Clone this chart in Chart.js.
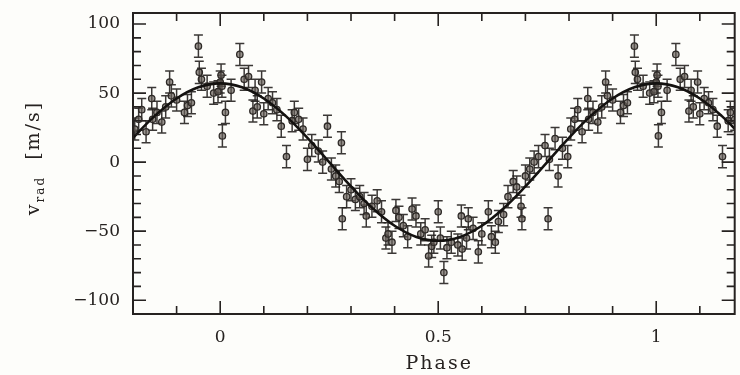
<!DOCTYPE html>
<html>
<head>
<meta charset="utf-8">
<script src="https://cdn.jsdelivr.net/npm/chart.js@4.4.1/dist/chart.umd.min.js"></script>
<style>
  html, body { margin: 0; padding: 0; background: #fdfdfa; }
  #wrap { width: 740px; height: 375px; }
</style>
</head>
<body>
<div id="wrap"><canvas id="rv" width="740" height="375"></canvas></div>
<script>
// ==================== DATA ====================

// phase-folded radial velocities, phase 0..1 (m/s)
const obsPhase = [
  0.000, 0.002, 0.004, 0.005, 0.012, 0.025, 0.045, 0.055, 0.065, 0.075,
  0.080, 0.085, 0.095, 0.100, 0.110, 0.120, 0.130, 0.140, 0.152, 0.165,
  0.170, 0.180, 0.190, 0.200, 0.210, 0.225, 0.235, 0.246, 0.255, 0.265,
  0.273, 0.278, 0.280, 0.290, 0.300, 0.310, 0.320, 0.330, 0.335, 0.348,
  0.360, 0.370, 0.380, 0.385, 0.394, 0.403, 0.410, 0.420, 0.430, 0.440,
  0.449, 0.460, 0.470, 0.478, 0.485, 0.490, 0.500, 0.505, 0.513, 0.520,
  0.530, 0.545, 0.553, 0.555, 0.565, 0.569, 0.580, 0.592, 0.600, 0.615,
  0.622, 0.631, 0.638, 0.650, 0.660, 0.672, 0.680, 0.690, 0.692, 0.700,
  0.710, 0.720, 0.730, 0.745, 0.752, 0.755, 0.768, 0.775, 0.785, 0.797,
  0.804, 0.813, 0.820, 0.830, 0.843, 0.845, 0.855, 0.866, 0.875, 0.884,
  0.888, 0.900, 0.918, 0.925, 0.934, 0.950, 0.952, 0.957, 0.970, 0.985,
  0.995
];
const obsVel = [
   58,  63,  55,  19,  36,  52,  78,  60,  62,  37,
   52,  40,  58,  35,  46,  43,  38,  26,   4,  30,
   36,  31,  24,   2,  12,   8,   0,  26,  -5, -10,
  -14,  14, -41, -25, -20, -27, -25, -30, -39, -32,
  -28, -36, -55, -52, -58, -35, -40, -46, -54, -34,
  -39, -52, -49, -68, -61, -58, -36, -55, -80, -62,
  -58, -60, -39, -63, -55, -41, -48, -65, -52, -36,
  -54, -58, -43, -38, -25, -14, -18, -32, -41, -10,
   -5,   0,   4,  12, -41,   2,  17, -10,  10,   4,
   24,  31,  38,  22,  46,  31,  36,  29,  40,  58,
   48,  45,  36,  41,  43,  84,  65,  60,  55,  50,
   51
];
const velErr = 8;

// fitted orbit, sampled every 0.05 in phase
const fitPhase = [
  -0.20, -0.15, -0.10, -0.05, 0.00, 0.05, 0.10, 0.15, 0.20, 0.25,
   0.30,  0.35,  0.40,  0.45, 0.50, 0.55, 0.60, 0.65, 0.70, 0.75,
   0.80,  0.85,  0.90,  0.95, 1.00, 1.05, 1.10, 1.15, 1.20
];
const fitVel = [
   17.6,  33.5,  46.1,  54.2,  57.0,  54.2,  46.1,  33.5,  17.6,   0.0,
  -17.6, -33.5, -46.1, -54.2, -57.0, -54.2, -46.1, -33.5, -17.6,   0.0,
   17.6,  33.5,  46.1,  54.2,  57.0,  54.2,  46.1,  33.5,  17.6
];

const xTicks = [0, 0.5, 1];
const yTicks = [-100, -50, 0, 50, 100];
const xRange = [-0.2, 1.18];
const yRange = [-110, 108];

// ==================== CHART ====================

const INK = '#262220';
const FONT = '"DejaVu Serif", "Liberation Serif", serif';

// repeat the folded points outside 0..1 like the original plot does
function foldedPoints() {
  const pts = [];
  obsPhase.forEach((p, i) => {
    [p - 1, p, p + 1].forEach(q => {
      if (q >= xRange[0] && q <= xRange[1]) pts.push({ x: q, y: obsVel[i] });
    });
  });
  return pts;
}

// error bars with caps
const errorBars = {
  id: 'errorBars',
  beforeDatasetsDraw(chart) {
    const { ctx, chartArea, scales } = chart;
    const pts = chart.data.datasets[1].data;
    ctx.save();
    ctx.beginPath();
    ctx.rect(chartArea.left, chartArea.top, chartArea.width, chartArea.height);
    ctx.clip();
    ctx.strokeStyle = 'rgba(38,34,32,0.9)';
    ctx.lineWidth = 1.5;
    pts.forEach(d => {
      const x = scales.x.getPixelForValue(d.x);
      const yTop = scales.y.getPixelForValue(d.y + velErr);
      const yBot = scales.y.getPixelForValue(d.y - velErr);
      ctx.beginPath();
      ctx.moveTo(x, yTop); ctx.lineTo(x, yBot);
      ctx.moveTo(x - 4.5, yTop); ctx.lineTo(x + 4.5, yTop);
      ctx.moveTo(x - 4.5, yBot); ctx.lineTo(x + 4.5, yBot);
      ctx.stroke();
    });
    ctx.restore();
  }
};

// box frame with inward ticks on all four sides, plus axis titles
const frame = {
  id: 'frame',
  afterDraw(chart) {
    const { ctx, chartArea: a, scales } = chart;
    ctx.save();
    ctx.strokeStyle = INK;
    ctx.lineWidth = 2;
    ctx.strokeRect(a.left, a.top, a.right - a.left, a.bottom - a.top);

    ctx.lineWidth = 1.6;
    ctx.beginPath();
    for (let k = -2; k <= 11; k++) {
      const v = k / 10;
      const x = scales.x.getPixelForValue(v);
      const len = k % 5 === 0 ? 13 : 8;
      ctx.moveTo(x, a.bottom); ctx.lineTo(x, a.bottom - len);
      ctx.moveTo(x, a.top); ctx.lineTo(x, a.top + len);
    }
    for (let v = -100; v <= 100; v += 10) {
      const y = scales.y.getPixelForValue(v);
      const len = v % 50 === 0 ? 13 : 8;
      ctx.moveTo(a.left, y); ctx.lineTo(a.left + len, y);
      ctx.moveTo(a.right, y); ctx.lineTo(a.right - len, y);
    }
    ctx.stroke();

    // x title
    ctx.fillStyle = INK;
    ctx.font = '19px ' + FONT;
    ctx.letterSpacing = '2px';
    ctx.textAlign = 'center';
    ctx.textBaseline = 'middle';
    ctx.fillText('Phase', scales.x.getPixelForValue(0.5) + 1, 364);

    // y title: v_rad [m/s]
    ctx.translate(33, 158);
    ctx.rotate(-Math.PI / 2);
    ctx.textAlign = 'left';
    ctx.textBaseline = 'alphabetic';
    ctx.letterSpacing = '2px';
    const big = '19px ' + FONT, small = '12px ' + FONT;
    ctx.font = big;  const w1 = ctx.measureText('v').width;
    ctx.font = small; const w2 = ctx.measureText('rad').width;
    ctx.font = big;  const w3 = ctx.measureText('  [m/s]').width;
    const x0 = -(w1 + w2 + w3) / 2;
    ctx.font = big;   ctx.fillText('v', x0, 6);
    ctx.font = small; ctx.fillText('rad', x0 + w1, 11);
    ctx.font = big;   ctx.fillText('  [m/s]', x0 + w1 + w2, 6);
    ctx.restore();
  }
};

function initRvChart() {
  const ctx = document.getElementById('rv').getContext('2d');
  const tickFont = { family: FONT, size: 17 };

  new Chart(ctx, {
    type: 'scatter',
    data: {
      datasets: [{
        label: 'Fit',
        data: fitPhase.map((p, i) => ({ x: p, y: fitVel[i] })),
        showLine: true,
        borderColor: '#141210',
        borderWidth: 2.6,
        pointRadius: 0,
        tension: 0.4,
        order: 0
      }, {
        label: 'Observed',
        data: foldedPoints(),
        pointRadius: 3.2,
        pointBorderWidth: 1.3,
        borderColor: '#2e2a27',
        backgroundColor: 'rgba(100,92,86,0.65)',
        order: 1
      }]
    },
    options: {
      responsive: false,
      animation: false,
      devicePixelRatio: 1,
      layout: { padding: { top: 13, right: 1, left: 0, bottom: 0 } },
      plugins: { legend: { display: false }, tooltip: { enabled: false } },
      scales: {
        x: {
          type: 'linear',
          min: xRange[0],
          max: xRange[1],
          afterBuildTicks: s => { s.ticks = xTicks.map(v => ({ value: v })); },
          afterFit: s => { s.height = 61; s.paddingLeft = 0; s.paddingRight = 0; },
          grid: { display: false, drawTicks: false },
          border: { display: false },
          ticks: { font: tickFont, color: INK, padding: 13, maxRotation: 0, callback: v => String(v) }
        },
        y: {
          min: yRange[0],
          max: yRange[1],
          afterBuildTicks: s => { s.ticks = yTicks.map(v => ({ value: v })); },
          afterFit: s => { s.width = 133; s.paddingTop = 0; s.paddingBottom = 0; },
          grid: { display: false, drawTicks: false },
          border: { display: false },
          ticks: {
            font: tickFont, color: INK, padding: 13,
            callback: v => String(v).replace('-', '\u2212')
          }
        }
      }
    },
    plugins: [errorBars, frame]
  });
}

document.addEventListener('DOMContentLoaded', initRvChart);
</script>
</body>
</html>
